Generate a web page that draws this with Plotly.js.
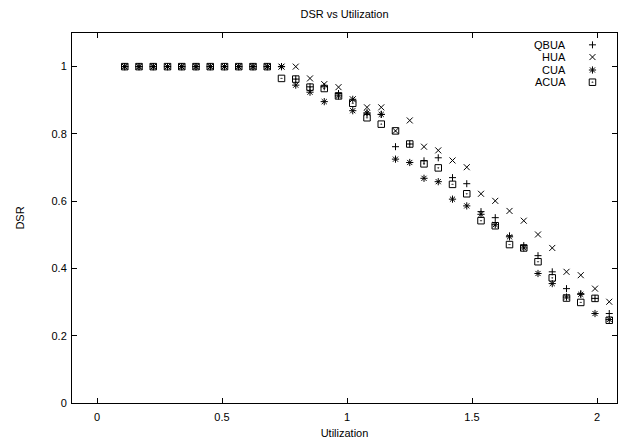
<!DOCTYPE html>
<html>
<head>
<meta charset="utf-8">
<script src="https://cdn.plot.ly/plotly-3.0.1.min.js"></script>
<style>html,body{margin:0;padding:0;background:#fff;}#chart{width:618px;height:440px;}</style>
</head>
<body>
<div id="chart"></div>
<script>
const utilization = [0.111,0.168,0.225,0.282,0.339,0.396,0.453,0.510,0.567,0.624,0.681,0.738,0.795,0.852,0.909,0.966,1.023,1.080,1.137,1.194,1.251,1.308,1.365,1.422,1.479,1.536,1.593,1.650,1.707,1.764,1.821,1.878,1.935,1.992,2.049];
const qbua = [1,1,1,1,1,1,1,1,1,1,1,1,0.963,0.940,0.940,0.920,0.903,0.862,0.858,0.762,0.770,0.720,0.729,0.670,0.652,0.569,0.551,0.497,0.468,0.438,0.390,0.340,0.325,0.311,0.266];
const hua = [1,1,1,1,1,1,1,1,1,1,1,1,1,0.965,0.948,0.939,0.903,0.879,0.879,0.809,0.840,0.762,0.751,0.721,0.701,0.622,0.601,0.571,0.542,0.501,0.461,0.390,0.380,0.340,0.301];
const cua = [1,1,1,1,1,1,1,1,1,1,1,1,0.945,0.924,0.896,0.913,0.869,0.862,0.858,0.725,0.715,0.668,0.658,0.606,0.586,0.561,0.530,0.494,0.461,0.385,0.355,0.315,0.323,0.266,0.248];
const acua = [1,1,1,1,1,1,1,1,1,1,1,0.965,0.963,0.939,0.935,0.913,0.891,0.848,0.829,0.809,0.770,0.711,0.699,0.650,0.622,0.542,0.527,0.471,0.461,0.420,0.372,0.312,0.299,0.311,0.246];
const seriesNames = ["QBUA","HUA","CUA","ACUA"];
const xTicks = [0,0.5,1,1.5,2];
const yTicks = [0,0.2,0.4,0.6,0.8,1];

const seriesValues = [qbua, hua, cua, acua];
const symbols = ["cross-thin-open","x-thin-open","asterisk-open","square-open-dot"];
const sizes = [5,6,6,6.5];
const FONT = "Liberation Sans, Arial, sans-serif";

// legend key layout (paper fractions in overlay axis)
const keyX = 0.955;
const keyY = [0.968, 0.935, 0.900, 0.867];
const labelX = 0.91;

const traces = [];
seriesValues.forEach((vals, i) => {
  traces.push({
    type: "scatter", mode: "markers", x: utilization, y: vals, name: seriesNames[i],
    showlegend: false, hoverinfo: "x+y+name",
    marker: {symbol: symbols[i], size: sizes[i], color: "#000", line: {color: "#000", width: 1}}
  });
});
seriesValues.forEach((vals, i) => {
  traces.push({
    type: "scatter", mode: "markers", x: [keyX], y: [keyY[i]], xaxis: "x2", yaxis: "y2",
    showlegend: false, hoverinfo: "skip",
    marker: {symbol: symbols[i], size: sizes[i], color: "#000", line: {color: "#000", width: 1}}
  });
});

const annotations = seriesNames.map((n, i) => ({
  text: n, xref: "paper", yref: "paper", x: labelX, y: keyY[i],
  xanchor: "right", yanchor: "middle", showarrow: false,
  font: {family: FONT, size: 11, color: "#000"}
}));

const axisCommon = {
  showline: true, linecolor: "#000", linewidth: 1, mirror: "ticks",
  ticks: "inside", ticklen: 5, tickcolor: "#000", tickwidth: 1,
  showgrid: false, zeroline: false,
  tickfont: {family: FONT, size: 11, color: "#000"}
};

const layout = {
  width: 618, height: 440,
  margin: {l: 72, r: 1, t: 33, b: 37, pad: 0},
  paper_bgcolor: "#fff", plot_bgcolor: "#fff",
  font: {family: FONT, size: 11, color: "#000"},
  title: {text: "DSR vs Utilization", x: 0.5, xref: "paper", y: 1 - 14/440, yref: "container", yanchor: "middle",
          font: {family: FONT, size: 11, color: "#000"}},
  xaxis: Object.assign({}, axisCommon, {
    range: [-0.1, 2.08], tickvals: xTicks, ticktext: xTicks.map(String), ticklabelstandoff: 4,
    title: {text: "Utilization", standoff: 7, font: {family: FONT, size: 11, color: "#000"}}
  }),
  yaxis: Object.assign({}, axisCommon, {
    range: [0, 1.1], tickvals: yTicks, ticktext: yTicks.map(String), ticklabelstandoff: 2,
    title: {text: "DSR", standoff: 24, font: {family: FONT, size: 11, color: "#000"}}
  }),
  xaxis2: {overlaying: "x", range: [0, 1], visible: false, fixedrange: true},
  yaxis2: {overlaying: "y", range: [0, 1], visible: false, fixedrange: true},
  annotations: annotations,
  showlegend: false
};

Plotly.newPlot("chart", traces, layout, {staticPlot: true, displayModeBar: false});
</script>
</body>
</html>
